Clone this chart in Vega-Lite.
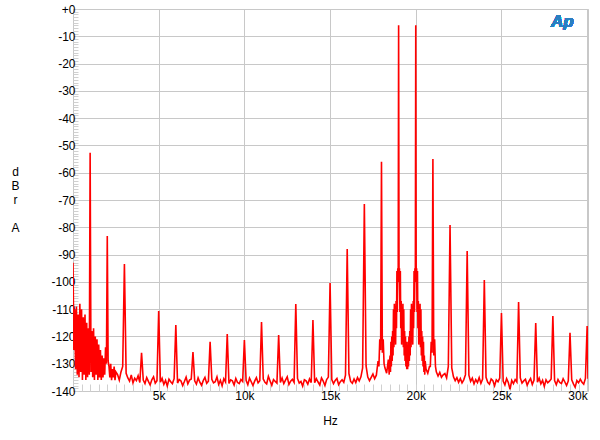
{
  "$schema": "https://vega.github.io/schema/vega-lite/v6.json",
  "width": 515,
  "height": 382,
  "autosize": {"type": "none"},
  "padding": {"left": 73, "top": 9, "right": 12, "bottom": 49},
  "background": "white",
  "config": {
    "font": "Liberation Sans",
    "view": {"stroke": "#c8c8c8", "strokeWidth": 1}
  },
  "data": {"values": [
    {"f":0,"d":-93},{"f":50,"d":-125},{"f":100,"d":-110},{"f":150,"d":-132},{"f":200,"d":-109},{"f":250,"d":-134},{"f":300,"d":-112},{"f":350,"d":-135},{"f":400,"d":-108},{"f":450,"d":-133},
    {"f":500,"d":-110},{"f":550,"d":-136},{"f":600,"d":-113},{"f":650,"d":-134},{"f":700,"d":-112},{"f":750,"d":-136},{"f":800,"d":-115},{"f":850,"d":-135},{"f":900,"d":-117},{"f":950,"d":-134},
    {"f":1000,"d":-52.7},{"f":1050,"d":-133},{"f":1100,"d":-118},{"f":1150,"d":-135},{"f":1200,"d":-117},{"f":1250,"d":-136},{"f":1300,"d":-120},{"f":1350,"d":-134},{"f":1400,"d":-121},{"f":1450,"d":-136},
    {"f":1500,"d":-123},{"f":1550,"d":-135},{"f":1600,"d":-125},{"f":1650,"d":-136},{"f":1700,"d":-127},{"f":1750,"d":-135},{"f":1800,"d":-128},{"f":1850,"d":-134},{"f":1900,"d":-124},{"f":1950,"d":-130},
    {"f":2000,"d":-83.2},{"f":2050,"d":-129},{"f":2100,"d":-131},{"f":2150,"d":-135},{"f":2200,"d":-130},{"f":2250,"d":-136},{"f":2300,"d":-132},{"f":2350,"d":-135},{"f":2400,"d":-131},{"f":2450,"d":-136},
    {"f":2500,"d":-133},{"f":2600,"d":-134},{"f":2700,"d":-136},{"f":2800,"d":-133},{"f":2900,"d":-131},
    {"f":3000,"d":-93.5},{"f":3100,"d":-133.5},{"f":3200,"d":-135.2},{"f":3300,"d":-136.4},{"f":3400,"d":-134.1},{"f":3500,"d":-137.0},{"f":3600,"d":-135.3},{"f":3700,"d":-136.2},{"f":3800,"d":-134.4},{"f":3900,"d":-136.9},
    {"f":4000,"d":-126},{"f":4100,"d":-136.0},{"f":4200,"d":-137.3},{"f":4300,"d":-135.1},{"f":4400,"d":-136.5},{"f":4500,"d":-137.8},{"f":4600,"d":-135.9},{"f":4700,"d":-134.8},{"f":4800,"d":-137.1},{"f":4900,"d":-136.2},
    {"f":5000,"d":-110.7},{"f":5100,"d":-136.8},{"f":5200,"d":-135.4},{"f":5300,"d":-137.6},{"f":5400,"d":-136.1},{"f":5500,"d":-138.2},{"f":5600,"d":-135.7},{"f":5700,"d":-136.6},{"f":5800,"d":-137.3},{"f":5900,"d":-135.5},
    {"f":6000,"d":-115.8},{"f":6100,"d":-137.1},{"f":6200,"d":-135.8},{"f":6300,"d":-136.3},{"f":6400,"d":-138.0},{"f":6500,"d":-136.5},{"f":6600,"d":-134.9},{"f":6700,"d":-137.4},{"f":6800,"d":-136.0},{"f":6900,"d":-135.6},
    {"f":7000,"d":-125.7},{"f":7100,"d":-136.3},{"f":7200,"d":-137.5},{"f":7300,"d":-135.2},{"f":7400,"d":-136.8},{"f":7500,"d":-137.9},{"f":7600,"d":-136.2},{"f":7700,"d":-135.0},{"f":7800,"d":-137.2},{"f":7900,"d":-136.4},
    {"f":8000,"d":-122},{"f":8100,"d":-135.7},{"f":8200,"d":-137.0},{"f":8300,"d":-136.6},{"f":8400,"d":-134.8},{"f":8500,"d":-137.6},{"f":8600,"d":-136.1},{"f":8700,"d":-138.1},{"f":8800,"d":-135.5},{"f":8900,"d":-136.7},
    {"f":9000,"d":-119.1},{"f":9100,"d":-137.2},{"f":9200,"d":-135.9},{"f":9300,"d":-136.3},{"f":9400,"d":-137.8},{"f":9500,"d":-135.4},{"f":9600,"d":-136.9},{"f":9700,"d":-137.3},{"f":9800,"d":-135.8},{"f":9900,"d":-136.5},
    {"f":10000,"d":-121.3},{"f":10100,"d":-136.1},{"f":10200,"d":-137.7},{"f":10300,"d":-135.3},{"f":10400,"d":-136.6},{"f":10500,"d":-138.0},{"f":10600,"d":-136.4},{"f":10700,"d":-135.1},{"f":10800,"d":-137.0},{"f":10900,"d":-136.2},
    {"f":11000,"d":-114.7},{"f":11100,"d":-135.6},{"f":11200,"d":-136.8},{"f":11300,"d":-137.4},{"f":11400,"d":-134.6},{"f":11500,"d":-136.3},{"f":11600,"d":-137.9},{"f":11700,"d":-135.8},{"f":11800,"d":-136.5},{"f":11900,"d":-137.1},
    {"f":12000,"d":-119.5},{"f":12100,"d":-136.9},{"f":12200,"d":-135.2},{"f":12300,"d":-137.3},{"f":12400,"d":-136.0},{"f":12500,"d":-134.8},{"f":12600,"d":-137.6},{"f":12700,"d":-136.4},{"f":12800,"d":-135.7},{"f":12900,"d":-136.8},
    {"f":13000,"d":-108.1},{"f":13100,"d":-135.4},{"f":13200,"d":-137.1},{"f":13300,"d":-136.5},{"f":13400,"d":-138.2},{"f":13500,"d":-135.9},{"f":13600,"d":-136.3},{"f":13700,"d":-137.5},{"f":13800,"d":-135.6},{"f":13900,"d":-136.9},
    {"f":14000,"d":-114},{"f":14100,"d":-137.0},{"f":14200,"d":-135.5},{"f":14300,"d":-136.7},{"f":14400,"d":-137.8},{"f":14500,"d":-135.2},{"f":14600,"d":-136.4},{"f":14700,"d":-138.0},{"f":14800,"d":-135.8},{"f":14900,"d":-134.9},
    {"f":15000,"d":-100.4},{"f":15100,"d":-135.8},{"f":15200,"d":-137.3},{"f":15300,"d":-136.1},{"f":15400,"d":-135.4},{"f":15500,"d":-137.7},{"f":15600,"d":-136.6},{"f":15700,"d":-135.9},{"f":15800,"d":-136.8},{"f":15900,"d":-134.2},
    {"f":16000,"d":-88},{"f":16100,"d":-133.6},{"f":16200,"d":-136.5},{"f":16300,"d":-137.2},{"f":16400,"d":-135.6},{"f":16500,"d":-136.9},{"f":16600,"d":-135.1},{"f":16700,"d":-136.3},{"f":16800,"d":-134.8},{"f":16900,"d":-131.5},
    {"f":17000,"d":-71.5},{"f":17100,"d":-130.8},{"f":17200,"d":-134.9},{"f":17300,"d":-136.2},{"f":17400,"d":-135.0},{"f":17500,"d":-133.8},{"f":17600,"d":-135.5},{"f":17700,"d":-134.2},{"f":17800,"d":-129},{"f":17850,"d":-131},{"f":17900,"d":-121},{"f":17950,"d":-125},
    {"f":18000,"d":-56},{"f":18050,"d":-126},{"f":18100,"d":-121},{"f":18150,"d":-130},{"f":18200,"d":-131.5},{"f":18300,"d":-133.5},{"f":18400,"d":-128.5},
    {"f":18450,"d":-134},{"f":18475,"d":-129},{"f":18500,"d":-127},{"f":18525,"d":-133},{"f":18550,"d":-122},{"f":18575,"d":-131},{"f":18600,"d":-120},{"f":18625,"d":-129},{"f":18650,"d":-118},{"f":18675,"d":-127},
    {"f":18700,"d":-110},{"f":18725,"d":-124},{"f":18750,"d":-108},{"f":18775,"d":-120},{"f":18800,"d":-112},{"f":18825,"d":-123},{"f":18850,"d":-107},{"f":18875,"d":-117},{"f":18900,"d":-96},{"f":18925,"d":-111},
    {"f":18950,"d":-95},{"f":18975,"d":-100},{"f":19000,"d":-6},{"f":19025,"d":-100},{"f":19050,"d":-95},{"f":19075,"d":-111},{"f":19100,"d":-96},{"f":19125,"d":-117},{"f":19150,"d":-107},{"f":19175,"d":-123},
    {"f":19200,"d":-112},{"f":19225,"d":-120},{"f":19250,"d":-108},{"f":19275,"d":-124},{"f":19300,"d":-110},{"f":19325,"d":-127},{"f":19350,"d":-118},{"f":19375,"d":-129},{"f":19400,"d":-120},{"f":19425,"d":-131},
    {"f":19450,"d":-122},{"f":19475,"d":-132},{"f":19500,"d":-129},{"f":19525,"d":-132},{"f":19550,"d":-122},{"f":19575,"d":-131},{"f":19600,"d":-120},{"f":19625,"d":-129},{"f":19650,"d":-118},{"f":19675,"d":-127},
    {"f":19700,"d":-110},{"f":19725,"d":-124},{"f":19750,"d":-108},{"f":19775,"d":-120},{"f":19800,"d":-112},{"f":19825,"d":-123},{"f":19850,"d":-107},{"f":19875,"d":-117},{"f":19900,"d":-96},{"f":19925,"d":-111},
    {"f":19950,"d":-95},{"f":19975,"d":-100},{"f":20000,"d":-6},{"f":20025,"d":-100},{"f":20050,"d":-95},{"f":20075,"d":-111},{"f":20100,"d":-96},{"f":20125,"d":-117},{"f":20150,"d":-107},{"f":20175,"d":-123},
    {"f":20200,"d":-112},{"f":20225,"d":-120},{"f":20250,"d":-108},{"f":20275,"d":-124},{"f":20300,"d":-110},{"f":20325,"d":-127},{"f":20350,"d":-118},{"f":20375,"d":-129},{"f":20400,"d":-120},{"f":20425,"d":-131},
    {"f":20450,"d":-122},{"f":20475,"d":-133},{"f":20500,"d":-127},{"f":20525,"d":-134},{"f":20550,"d":-129},{"f":20600,"d":-132},{"f":20700,"d":-133.5},{"f":20800,"d":-131},{"f":20850,"d":-131},{"f":20900,"d":-122},{"f":20950,"d":-126},
    {"f":21000,"d":-55},{"f":21050,"d":-127},{"f":21100,"d":-121},{"f":21150,"d":-131},{"f":21200,"d":-133},{"f":21300,"d":-134.5},{"f":21400,"d":-133.2},{"f":21500,"d":-135.0},{"f":21600,"d":-134.1},{"f":21700,"d":-133.6},{"f":21800,"d":-135.2},{"f":21900,"d":-131},
    {"f":22000,"d":-79.2},{"f":22100,"d":-131.5},{"f":22200,"d":-134.8},{"f":22300,"d":-136.2},{"f":22400,"d":-135.1},{"f":22500,"d":-136.8},{"f":22600,"d":-135.4},{"f":22700,"d":-137.0},{"f":22800,"d":-135.9},{"f":22900,"d":-134},
    {"f":23000,"d":-88.7},{"f":23100,"d":-134.2},{"f":23200,"d":-136.5},{"f":23300,"d":-135.3},{"f":23400,"d":-137.4},{"f":23500,"d":-135.8},{"f":23600,"d":-136.9},{"f":23700,"d":-135.1},{"f":23800,"d":-137.2},{"f":23900,"d":-135.6},
    {"f":24000,"d":-99.3},{"f":24100,"d":-135.0},{"f":24200,"d":-136.8},{"f":24300,"d":-137.5},{"f":24400,"d":-135.6},{"f":24500,"d":-136.2},{"f":24600,"d":-138.1},{"f":24700,"d":-135.9},{"f":24800,"d":-136.6},{"f":24900,"d":-135.3},
    {"f":25000,"d":-111.4},{"f":25100,"d":-136.4},{"f":25200,"d":-137.8},{"f":25300,"d":-135.5},{"f":25400,"d":-136.9},{"f":25500,"d":-139.4},{"f":25600,"d":-136.1},{"f":25700,"d":-137.3},{"f":25800,"d":-135.8},{"f":25900,"d":-136.7},
    {"f":26000,"d":-107.4},{"f":26100,"d":-135.2},{"f":26200,"d":-137.1},{"f":26300,"d":-136.3},{"f":26400,"d":-135.7},{"f":26500,"d":-137.9},{"f":26600,"d":-136.5},{"f":26700,"d":-135.4},{"f":26800,"d":-137.6},{"f":26900,"d":-136.0},
    {"f":27000,"d":-115.1},{"f":27100,"d":-136.8},{"f":27200,"d":-135.3},{"f":27300,"d":-137.4},{"f":27400,"d":-136.1},{"f":27500,"d":-138.3},{"f":27600,"d":-135.9},{"f":27700,"d":-137.0},{"f":27800,"d":-136.4},{"f":27900,"d":-135.6},
    {"f":28000,"d":-112.5},{"f":28100,"d":-136.2},{"f":28200,"d":-137.7},{"f":28300,"d":-135.8},{"f":28400,"d":-136.9},{"f":28500,"d":-137.3},{"f":28600,"d":-135.5},{"f":28700,"d":-136.7},{"f":28800,"d":-138.0},{"f":28900,"d":-136.3},
    {"f":29000,"d":-118.7},{"f":29100,"d":-135.9},{"f":29200,"d":-137.4},{"f":29300,"d":-138.6},{"f":29400,"d":-136.2},{"f":29500,"d":-137.0},{"f":29600,"d":-135.7},{"f":29700,"d":-136.8},{"f":29800,"d":-137.5},{"f":29900,"d":-135.4},
    {"f":30000,"d":-116.2},{"f":30050,"d":-135.5}
  ]},
  "layer": [
    {
      "mark": {"type": "line", "color": "#ff0000", "strokeWidth": 1.6, "clip": true},
      "encoding": {
        "x": {
          "field": "f", "type": "quantitative",
          "scale": {"domain": [0, 30050], "nice": false, "zero": false},
          "axis": {
            "tickCount": 60,
            "domain": false,
            "grid": true,
            "gridColor": "#c8c8c8",
            "gridWidth": 1,
            "gridOpacity": {"condition": {"test": "datum.value % 5000 === 0", "value": 1}, "value": 0},
            "ticks": true,
            "tickSize": -7,
            "tickColor": "#d0d0d0",
            "tickWidth": 1,
            "labelExpr": "datum.value % 5000 === 0 && datum.value > 0 ? (datum.value / 1000) + 'k' : ''",
            "labelOverlap": false,
            "labelBound": false,
            "labelFlush": 3,
            "labelFont": "Liberation Sans",
            "labelFontSize": 12,
            "labelColor": "#000000",
            "labelPadding": 6,
            "title": "Hz",
            "titleFont": "Liberation Sans",
            "titleFontSize": 12,
            "titleFontWeight": "normal",
            "titleColor": "#000000",
            "titleX": 257,
            "titleY": 24,
            "titleBaseline": "top"
          }
        },
        "y": {
          "field": "d", "type": "quantitative",
          "scale": {"domain": [-140, 0], "nice": false, "zero": false},
          "axis": {
            "tickCount": 140,
            "domain": false,
            "grid": true,
            "gridColor": "#c8c8c8",
            "gridWidth": 1,
            "gridOpacity": {"condition": {"test": "datum.value % 10 === 0", "value": 1}, "value": 0},
            "ticks": true,
            "tickSize": -5,
            "tickColor": "#d0d0d0",
            "tickWidth": 1,
            "labelExpr": "datum.value % 10 === 0 ? (datum.value === 0 ? '+0' : '' + datum.value) : ''",
            "labelOverlap": false,
            "labelBound": false,
            "labelFont": "Liberation Sans",
            "labelFontSize": 12,
            "labelColor": "#000000",
            "labelPadding": 3,
            "title": ["d", "B", "r", "\u200b", "A"],
            "titleFont": "Liberation Sans",
            "titleFontSize": 12,
            "titleFontWeight": "normal",
            "titleColor": "#000000",
            "titleAngle": 0,
            "titleAlign": "center",
            "titleBaseline": "top",
            "titleLineHeight": 14,
            "titleX": -58,
            "titleY": 157
          }
        }
      }
    },
    {
      "mark": {"type": "text", "text": "Ap", "color": "#2a7fc1", "font": "Liberation Sans", "fontSize": 17, "fontStyle": "italic", "fontWeight": "bold", "align": "center", "baseline": "middle"},
      "encoding": {
        "x": {"datum": 28550, "type": "quantitative"},
        "y": {"datum": -4.6, "type": "quantitative"}
      }
    }
  ]
}
